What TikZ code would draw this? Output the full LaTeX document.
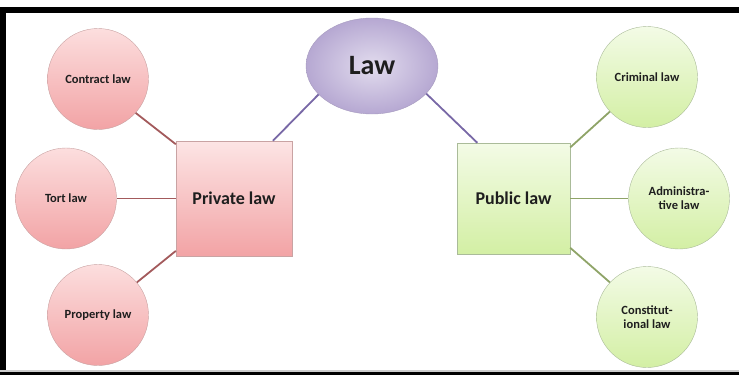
\documentclass[tikz,border=0pt]{standalone}
\usepackage{fontspec}
\setmainfont{Carlito}
\usepackage{tikz}
\usetikzlibrary{shapes.geometric}
\definecolor{pkTop}{HTML}{FCDEDE}
\definecolor{pkBot}{HTML}{F2A3A5}
\definecolor{pkEdge}{HTML}{C9A3A3}
\definecolor{grTop}{HTML}{F3FBE6}
\definecolor{grBot}{HTML}{D3EFA4}
\definecolor{grEdge}{HTML}{AABB99}
\definecolor{puIn}{HTML}{E2DCEE}
\definecolor{puOut}{HTML}{B6A8D2}
\definecolor{puEdge}{HTML}{A79CBF}
\definecolor{lnPk}{HTML}{A35A5C}
\definecolor{lnPu}{HTML}{7868A6}
\definecolor{lnGr}{HTML}{8FA468}
\definecolor{txt}{HTML}{1E1E1E}
\tikzset{
  sub/.style={circle,minimum size=101pt,inner sep=0pt,align=center,
              font=\bfseries\fontsize{12.5}{14}\selectfont,text=txt},
  pkball/.style={sub,draw=pkEdge,top color=pkTop,bottom color=pkBot},
  grball/.style={sub,draw=grEdge,top color=grTop,bottom color=grBot},
  branch/.style={rectangle,inner sep=0pt,align=center,
              font=\bfseries\fontsize{18}{20}\selectfont,text=txt},
  root/.style={ellipse,minimum width=132pt,minimum height=96pt,inner sep=0pt,
              draw=puEdge,inner color=puIn,outer color=puOut,
              font=\bfseries\fontsize{28}{30}\selectfont,text=txt},
  link/.style={line width=1.8pt},
}
\begin{document}
\begin{tikzpicture}[x=1pt,y=-1pt]
  \useasboundingbox (0,0) rectangle (739,375);
  % frame
  \fill[black] (0,6.5) rectangle (739,12.7);
  \fill[black] (0,6.5) rectangle (6,375);
  \fill[gray!40] (0,370.2) rectangle (739,371.7);
  \fill[black] (0,371.7) rectangle (739,375);
  % main nodes
  \node[root] (law) at (372,66) {Law};
  \node[branch,minimum width=116pt,minimum height=115pt,draw=pkEdge,
        top color=pkTop!80!white,bottom color=pkBot] (priv) at (234,198.5) {Private law};
  \node[branch,minimum width=113pt,minimum height=111pt,draw=grEdge,
        top color=grTop,bottom color=grBot] (pub) at (513.5,198.5) {Public law};
  % private side
  \node[pkball] (contract) at (98,79) {Contract law};
  \node[pkball] (tort) at (66,198.5) {Tort law};
  \node[pkball] (property) at (98,315) {Property law};
  % public side
  \node[grball] (criminal) at (647,77) {Criminal law};
  \node[grball] (admin) at (679,198.5) {Administra-\\tive law};
  \node[grball] (const) at (647,317) {Constitut-\\ional law};
  % links
  \draw[link,lnPu] (law.208) -- (priv.56);
  \draw[link,lnPu] (law.333) -- (pub.123);
  \draw[link,lnPk] (contract.-42) -- (priv.137);
  \draw[link,lnPk] (tort) -- (priv);
  \draw[link,lnPk] (property.40) -- (priv.222);
  \draw[link,lnGr] (criminal.223) -- (pub.42);
  \draw[link,lnGr] (admin) -- (pub);
  \draw[link,lnGr] (const.137) -- (pub.-41);
\end{tikzpicture}
\end{document}
